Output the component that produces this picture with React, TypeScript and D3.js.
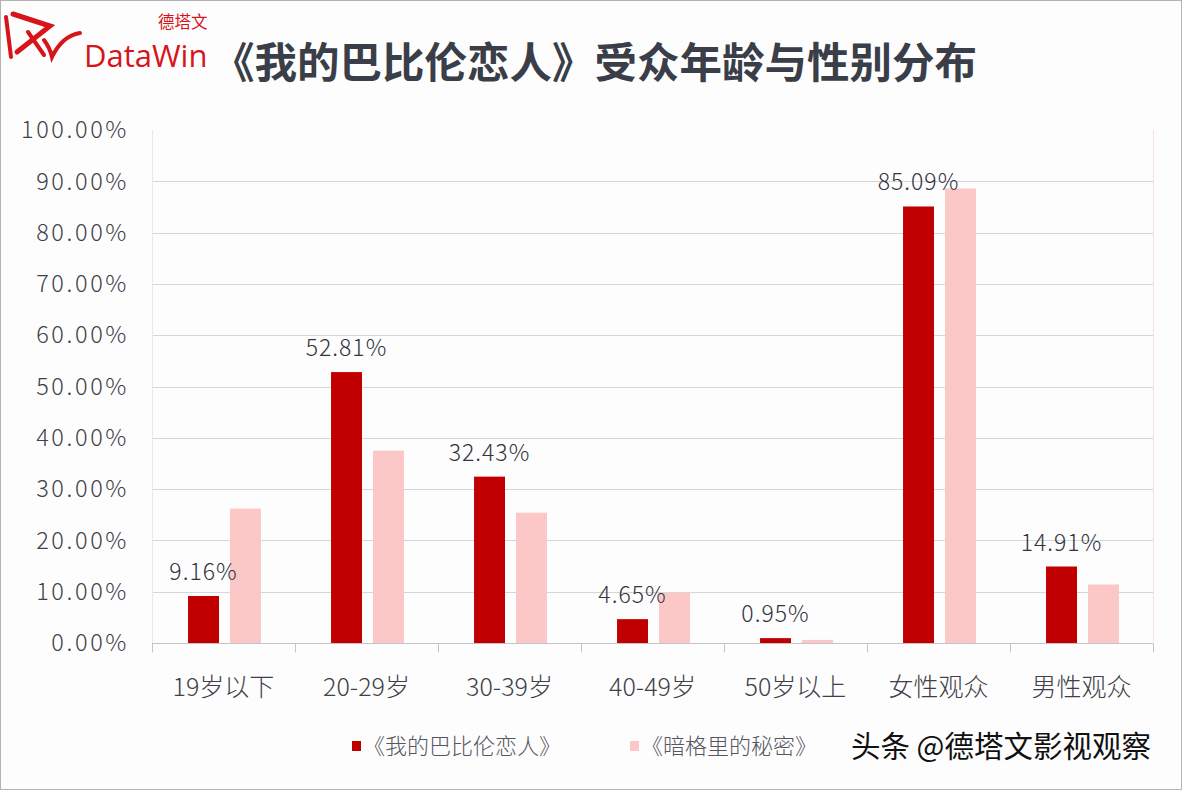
import React, { useEffect, useRef } from 'react';
import * as d3 from 'd3';

// categories and values
const categories = ['19岁以下', '20-29岁', '30-39岁', '40-49岁', '50岁以上', '女性观众', '男性观众'];
const babylonValues = [9.16, 52.81, 32.43, 4.65, 0.95, 85.09, 14.91];
const secretValues = [26.2, 37.5, 25.4, 9.8, 0.6, 88.6, 11.4];
const seriesNames = ['《我的巴比伦恋人》', '《暗格里的秘密》'];
const seriesColors = ['#c00000', '#fcc7c7'];
const yTicks = [0, 10, 20, 30, 40, 50, 60, 70, 80, 90, 100];

const FONT = '"Noto Sans CJK SC", "Noto Sans", sans-serif';

const App = () => {
  const chartRef = useRef<SVGSVGElement>(null);

  useEffect(() => {
    const width = 1182;
    const height = 790;
    const margin = { top: 130, right: 29, bottom: 147, left: 152 };

    const svg = d3.select(chartRef.current);
    svg.selectAll('*').remove();
    svg.attr('width', width).attr('height', height);

    svg.append('rect')
      .attr('x', 0.5).attr('y', 0.5)
      .attr('width', width - 1).attr('height', height - 1)
      .attr('fill', '#fdfdfd')
      .attr('stroke', '#b4b4b4');

    const x = d3.scaleBand<string>()
      .domain(categories)
      .range([margin.left, width - margin.right])
      .padding(0);

    const xSub = d3.scaleBand<number>()
      .domain([0, 1])
      .range([x.bandwidth() * 0.252, x.bandwidth() * 0.762])
      .paddingInner(0.262);

    const y = d3.scaleLinear()
      .domain([0, 100])
      .range([height - margin.bottom, margin.top]);

    // gridlines
    svg.append('g')
      .selectAll('line')
      .data(yTicks.filter(t => t > 0 && t < 100))
      .enter().append('line')
      .attr('x1', margin.left + 1)
      .attr('x2', width - margin.right)
      .attr('y1', d => Math.round(y(d)) + 0.5)
      .attr('y2', d => Math.round(y(d)) + 0.5)
      .attr('stroke', '#d6d6d9');

    // faint frame at the plot sides
    [margin.left, width - margin.right].forEach(px => {
      svg.append('line')
        .attr('x1', px + 0.5).attr('x2', px + 0.5)
        .attr('y1', margin.top).attr('y2', height - margin.bottom)
        .attr('stroke', '#f6e0e0');
    });

    // y labels
    svg.append('g')
      .selectAll('text')
      .data(yTicks)
      .enter().append('text')
      .attr('x', 129)
      .attr('y', d => y(d))
      .attr('dy', '0.35em')
      .attr('text-anchor', 'end')
      .attr('font-family', FONT)
      .attr('font-size', 23.5)
      .attr('font-weight', 300)
      .attr('letter-spacing', 2.6)
      .attr('fill', '#3f4049')
      .text(d => d3.format('.2%')(d / 100));

    // bars
    const groups = svg.append('g')
      .selectAll('g')
      .data(categories)
      .enter().append('g')
      .attr('transform', d => `translate(${x(d)},0)`);

    [babylonValues, secretValues].forEach((values, s) => {
      groups.append('rect')
        .attr('x', xSub(s)!)
        .attr('y', (_, i) => y(values[i]))
        .attr('width', xSub.bandwidth())
        .attr('height', (_, i) => y(0) - y(values[i]))
        .attr('fill', seriesColors[s]);
    });

    // value labels on the first series
    groups.append('text')
      .attr('x', xSub(0)! + xSub.bandwidth() / 2)
      .attr('y', (_, i) => y(babylonValues[i]) - 16)
      .attr('text-anchor', 'middle')
      .attr('font-family', FONT)
      .attr('font-size', 23)
      .attr('font-weight', 300)
      .attr('letter-spacing', 1)
      .attr('fill', '#33343f')
      .text((_, i) => babylonValues[i].toFixed(2) + '%');

    // x axis
    const base = Math.round(y(0)) + 0.5;
    svg.append('line')
      .attr('x1', margin.left).attr('x2', width - margin.right)
      .attr('y1', base).attr('y2', base)
      .attr('stroke', '#c4c4c8');

    svg.append('g')
      .selectAll('line')
      .data(d3.range(categories.length + 1))
      .enter().append('line')
      .attr('x1', i => Math.round(margin.left + i * x.step()) + 0.5)
      .attr('x2', i => Math.round(margin.left + i * x.step()) + 0.5)
      .attr('y1', base).attr('y2', base + 9)
      .attr('stroke', '#c4c4c8');

    svg.append('g')
      .selectAll('text')
      .data(categories)
      .enter().append('text')
      .attr('x', d => x(d)! + x.bandwidth() / 2)
      .attr('y', 696)
      .attr('text-anchor', 'middle')
      .attr('font-family', FONT)
      .attr('font-size', 25)
      .attr('font-weight', 300)
      .attr('fill', '#3f4049')
      .text(d => d);

    // legend
    const legendX = [352, 630];
    seriesNames.forEach((name, s) => {
      svg.append('rect')
        .attr('x', legendX[s]).attr('y', 741)
        .attr('width', 9).attr('height', 10)
        .attr('fill', seriesColors[s]);
      svg.append('text')
        .attr('x', legendX[s] + 11).attr('y', 754)
        .attr('font-family', FONT)
        .attr('font-size', 22)
        .attr('font-weight', 300)
        .attr('fill', '#55565f')
        .text(name);
    });

    // watermark
    svg.append('text')
      .attr('x', 851).attr('y', 757)
      .attr('font-family', FONT)
      .attr('font-size', 29.5)
      .attr('fill', '#111')
      .attr('stroke', '#fff')
      .attr('stroke-width', 1)
      .attr('paint-order', 'stroke')
      .text('头条 @德塔文影视观察');

    // title
    svg.append('text')
      .attr('x', 212).attr('y', 78)
      .attr('font-family', FONT)
      .attr('font-size', 42.5)
      .attr('font-weight', 'bold')
      .attr('fill', '#3a3e48')
      .text('《我的巴比伦恋人》受众年龄与性别分布');

    // logo
    const logo = svg.append('g')
      .attr('fill', 'none')
      .attr('stroke', '#d7141a')
      .attr('stroke-linecap', 'round');
    logo.append('path').attr('d', 'M6,17 L11,57').attr('stroke-width', 4);
    logo.append('path').attr('d', 'M13,14 L50,26 L17,52').attr('stroke-width', 5);
    logo.append('path').attr('d', 'M28,32 L44,55').attr('stroke-width', 4);
    logo.append('path').attr('d', 'M44,40 Q50,48 52,57 Q62,36 80,33').attr('stroke-width', 4);

    svg.append('text')
      .attr('x', 84).attr('y', 67)
      .attr('font-family', '"Open Sans", sans-serif')
      .attr('font-size', 31)
      .attr('fill', '#d7141a')
      .text('DataWin');

    svg.append('text')
      .attr('x', 158).attr('y', 28)
      .attr('font-family', FONT)
      .attr('font-size', 16.5)
      .attr('fill', '#d7141a')
      .text('德塔文');
  }, []);

  return (
    <div style={{ position: 'absolute', left: 0, top: 0 }}>
      <svg ref={chartRef}></svg>
    </div>
  );
};

export default App;
